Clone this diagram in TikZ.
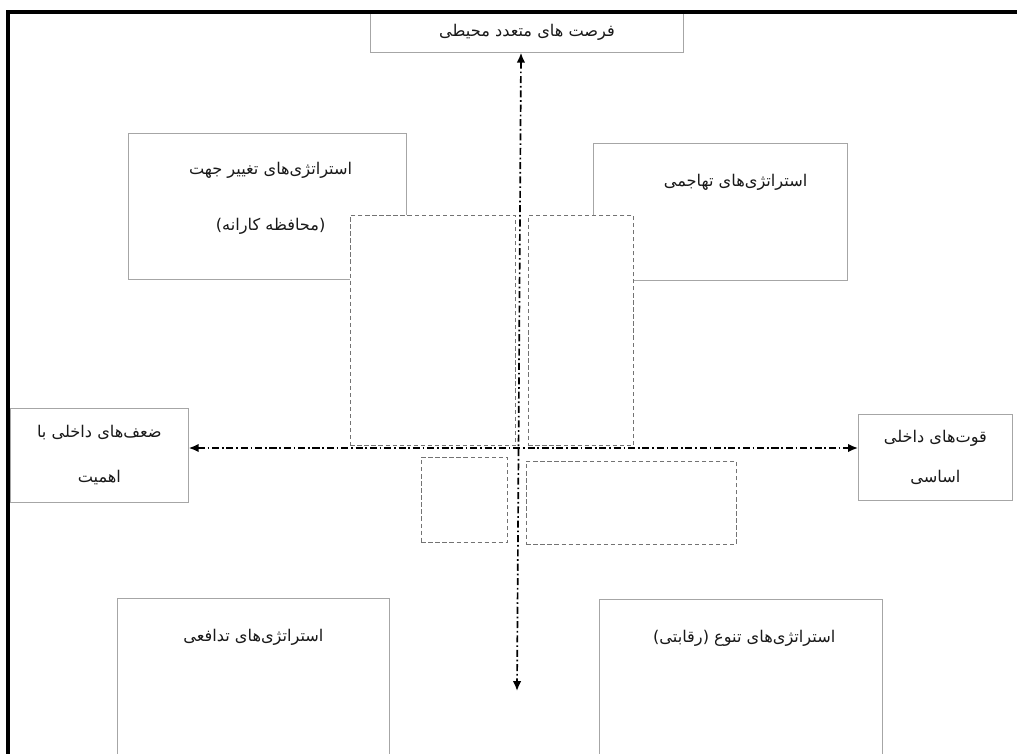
\documentclass[tikz,border=0pt]{standalone}
\usepackage{fontspec}
\newfontfamily\arabicfont[Script=Arabic]{DejaVu Sans}
\TeXXeTstate=1
\usetikzlibrary{positioning, arrows.meta}

\newcommand{\fatext}[1]{\beginR#1\endR}

\begin{document}
\begin{tikzpicture}[x=0.025cm,y=-0.025cm,
  box/.style={draw=black!35,fill=white,line width=0.5pt,anchor=north west,inner sep=0pt},
  dbox/.style={draw=black!55,fill=white,densely dashed,line width=0.5pt,anchor=north west,inner sep=0pt},
  fa/.style={font=\arabicfont\fontsize{11.5}{14}\selectfont,text=black!90},
  lbl/.style={fa,inner sep=1pt,on grid},
  axis/.style={black,line width=1.2pt,dash pattern=on 5pt off 2pt on 1.2pt off 2pt,
    {Latex[length=7pt,width=6pt]}-{Latex[length=7pt,width=6pt]}}]
\useasboundingbox (0,0) rectangle (1017,754);
\clip (0,0) rectangle (1017,754);

% outer boxes
\node[box,fa,minimum width=7.83cm,minimum height=1cm] (opp) at (370,12) {\fatext{فرصت های متعدد محیطی}};
\node[box,minimum width=6.95cm,minimum height=3.65cm] (turn) at (128,133) {};
\node[box,minimum width=6.35cm,minimum height=3.43cm] (aggr) at (593,143) {};
\node[box,fa,minimum width=4.45cm,minimum height=2.35cm,align=center]
  (weak) at (10,408) {\fatext{ضعف‌های داخلی با}\\[18pt]\fatext{اهمیت}};
\node[box,fa,minimum width=3.85cm,minimum height=2.15cm,align=center]
  (strong) at (858,414) {\fatext{قوت‌های داخلی}\\[14pt]\fatext{اساسی}};
\node[box,minimum width=6.8cm,minimum height=4.5cm] (def) at (117,598) {};
\node[box,minimum width=7.08cm,minimum height=4.5cm] (div) at (599,599) {};

% inner dotted boxes
\node[dbox,minimum width=4.13cm,minimum height=5.75cm] (inL) at (350,215) {};
\node[dbox,minimum width=2.63cm,minimum height=5.75cm] (inR) at (528,215) {};
\node[dbox,minimum width=2.15cm,minimum height=2.13cm] (smL) at (421,457) {};
\node[dbox,minimum width=5.25cm,minimum height=2.08cm] (smR) at (526,461) {};

% labels
\node[lbl,below=0.68cm of turn.north,xshift=0.08cm] (turn-a) {\fatext{استراتژی‌های تغییر جهت}};
\node[lbl,below=2.1cm of turn.north,xshift=0.08cm] (turn-b) {\fatext{(محافظه کارانه)}};
\node[lbl,below=0.73cm of aggr.north,xshift=0.38cm] (aggr-a) {\fatext{استراتژی‌های تهاجمی}};
\node[lbl,below=0.73cm of def.north] (def-a) {\fatext{استراتژی‌های تدافعی}};
\node[lbl,below=0.73cm of div.north,xshift=0.08cm] (div-a) {\fatext{استراتژی‌های تنوع (رقابتی)}};

% axes
\coordinate (o) at (521,448);
\coordinate (dn) at (517,691);
\draw[axis] (opp.south -| o) -- (dn);
\draw[axis] (weak.east |- o) -- (strong.west |- o);

% frame
\draw[line width=2.2pt] (8,760) -- (8,12) -- (1020,12);
\end{tikzpicture}
\end{document}
